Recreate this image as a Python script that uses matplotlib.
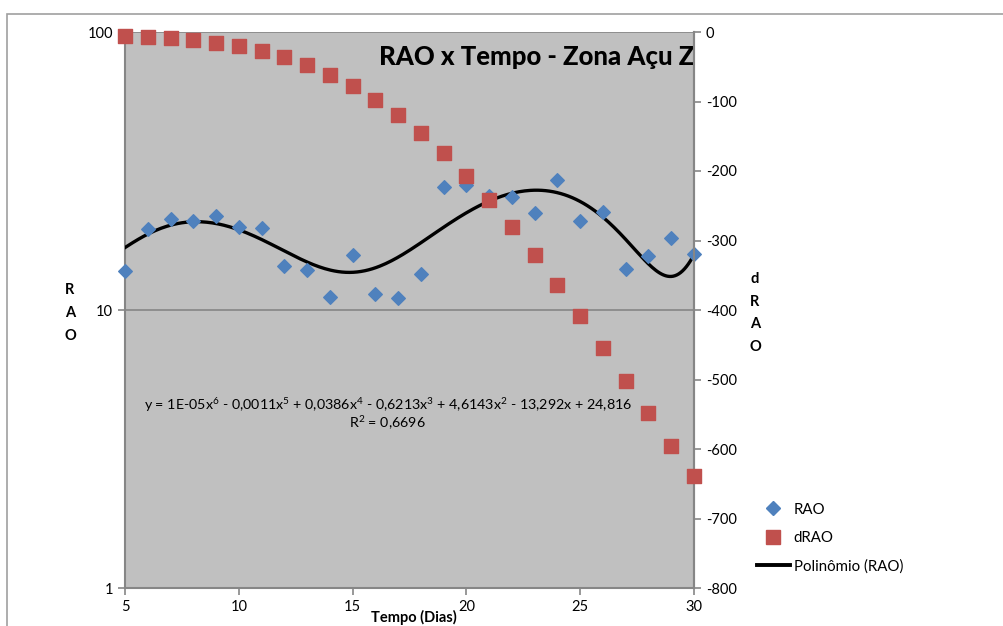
import numpy as np
import matplotlib.pyplot as plt
from matplotlib.patches import Rectangle
from matplotlib.lines import Line2D

plt.rcParams['font.family'] = ['Lato', 'DejaVu Sans']
plt.rcParams['mathtext.fontset'] = 'custom'
plt.rcParams['mathtext.rm'] = 'Lato'
plt.rcParams['mathtext.it'] = 'Lato'
plt.rcParams['axes.unicode_minus'] = False

# dados
dias = [5, 6, 7, 8, 9, 10, 11, 12, 13, 14, 15, 16, 17,
        18, 19, 20, 21, 22, 23, 24, 25, 26, 27, 28, 29, 30]
rao = [13.8, 19.6, 21.3, 20.9, 21.8, 19.9, 19.7, 14.4, 13.9, 11.1, 15.8, 11.4, 11.0,
       13.5, 27.7, 28.2, 25.7, 25.5, 22.3, 29.4, 20.9, 22.5, 14.0, 15.6, 18.2, 15.9]
drao = [-6, -7, -9, -11.5, -16, -20, -27, -36, -47, -62, -78, -98, -119,
        -145, -174, -207, -242, -281, -321, -364, -409, -455, -502, -548, -596, -639]
# valores da linha de tendência (Polinômio) lidos em cada dia
tendencia = [16.7, 18.9, 20.2, 20.7, 20.3, 19.4, 18.1, 16.4, 14.9, 13.8, 13.7, 14.3, 15.6,
             17.0, 19.6, 22.6, 25.2, 26.3, 26.7, 26.3, 24.5, 21.7, 17.9, 14.7, 13.2, 15.8]

equacao = (r"y = 1E-05x$^{6}$ - 0,0011x$^{5}$ + 0,0386x$^{4}$ - 0,6213x$^{3}$ + "
           r"4,6143x$^{2}$ - 13,292x + 24,816")
r2 = r"R$^{2}$ = 0,6696"

fig = plt.figure(figsize=(10.04, 6.26), dpi=100)
fig.patches.append(Rectangle((7 / 1004, -0.2), 1.2, 1.2 - 14 / 626,
                             transform=fig.transFigure, fill=False,
                             edgecolor='#a0a0a0', linewidth=1.2))

ax = fig.add_axes([125 / 1004, 1 - 588 / 626, (694 - 125) / 1004, (588 - 32) / 626])
ax.set_facecolor('#c0c0c0')
ax.set_yscale('log')
ax.set_ylim(1, 100)
ax.set_xlim(5, 30)
ax.set_xticks([5, 10, 15, 20, 25, 30])
ax.yaxis.set_minor_locator(plt.NullLocator())
ax.set_yticks([1, 10, 100])
ax.set_yticklabels(['1', '10', '100'])
ax.grid(axis='y', color='#868686', linewidth=1.2)
ax.set_axisbelow(True)

ax.spines['top'].set_visible(False)
for s in ['left', 'bottom', 'right']:
    ax.spines[s].set_color('#868686')
    ax.spines[s].set_linewidth(1.5)
ax.tick_params(colors='#868686', labelcolor='black', labelsize=10.5, length=5, width=1.2)

# linha de tendência polinomial (grau 6)
coef = np.polyfit(dias, tendencia, 6)
xs = np.linspace(5, 30, 300)
ax.plot(xs, np.polyval(coef, xs), color='black', linewidth=2.4, zorder=3)
ax.scatter(dias, rao, marker='D', s=48, color='#4f81bd', zorder=4, clip_on=False)

ax2 = ax.twinx()
ax2.set_ylim(-800, 0)
ax2.set_yticks(range(-800, 1, 100))
for s in ['top', 'left', 'bottom']:
    ax2.spines[s].set_visible(False)
ax2.spines['right'].set_color('#868686')
ax2.spines['right'].set_linewidth(1.5)
ax2.tick_params(colors='#868686', labelcolor='black', labelsize=10.5, length=5, width=1.2)
ax2.scatter(dias, drao, marker='s', s=95, color='#c0504d', zorder=4, clip_on=False)

ax.text(1.0, 0.955, 'RAO x Tempo - Zona Açu Z', transform=ax.transAxes,
        ha='right', va='center', fontsize=18.5, fontweight='black', zorder=6)
fig.text(388 / 1004, 1 - 405 / 626, equacao, ha='center', va='center', fontsize=10.3)
fig.text(387 / 1004, 1 - 423 / 626, r2, ha='center', va='center', fontsize=10.3)

fig.text(70 / 1004, 1 - 313 / 626, 'R\nA\nO', ha='center', va='center',
         fontsize=10.5, fontweight='bold', linespacing=1.8)
fig.text(755 / 1004, 1 - 313 / 626, 'd\nR\nA\nO', ha='center', va='center',
         fontsize=10.5, fontweight='bold', linespacing=1.8)
fig.text(414 / 1004, 1 - 617 / 626, 'Tempo (Dias)', ha='center', va='center',
         fontsize=10.5, fontweight='bold')

handles = [Line2D([], [], marker='D', linestyle='none', color='#4f81bd', markersize=7),
           Line2D([], [], marker='s', linestyle='none', color='#c0504d', markersize=9.5),
           Line2D([], [], color='black', linewidth=2.8)]
fig.legend(handles, ['RAO', 'dRAO', 'Polinômio (RAO)'],
           loc='center left', bbox_to_anchor=(757 / 1004, 1 - 538 / 626),
           frameon=False, fontsize=10.8, handlelength=2.2, handletextpad=0.25,
           labelspacing=0.95, borderaxespad=0, borderpad=0)

fig.savefig('out.png', dpi=100)
